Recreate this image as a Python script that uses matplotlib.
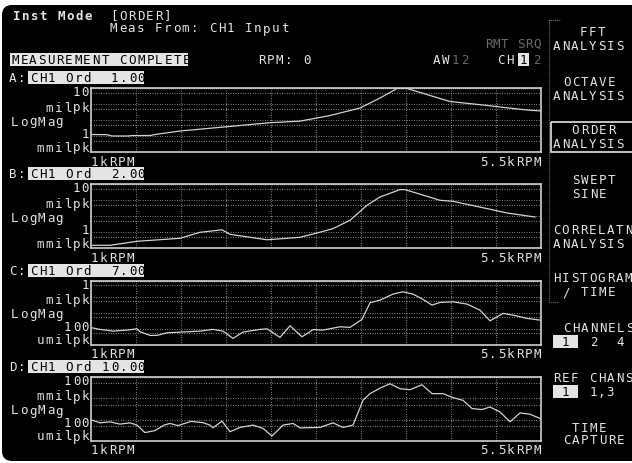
import numpy as np
import matplotlib
matplotlib.use('Agg')
import matplotlib.pyplot as plt
from matplotlib.patches import FancyBboxPatch, Rectangle

# --- trace data: RPM vs amplitude in mils (peak) ---
rpm_a = [1000, 1160, 1210, 1370, 1420, 1590, 1640, 1890, 2360, 2790, 3090, 3390,
         3690, 3890, 4060, 4160, 4590, 4920, 5090, 5360, 5500]
mag_a = [0.0124, 0.0121, 0.0100, 0.0100, 0.0107, 0.0107, 0.0124, 0.0205, 0.0381,
         0.0678, 0.085, 0.19, 0.562, 2.37, 9.31, 9.31, 1.43, 0.866, 0.649, 0.422, 0.365]

rpm_b = [1010, 1190, 1360, 1460, 1890, 2090, 2310, 2390, 2760, 3090, 3260, 3420,
         3590, 3760, 3890, 4090, 4140, 4490, 4620, 4960, 5160, 5440]
mag_b = [0.00154, 0.00154, 0.00221, 0.00274, 0.00422, 0.0100, 0.0143, 0.0075, 0.0034,
         0.00487, 0.00904, 0.0170, 0.0562, 0.487, 1.61, 4.66, 4.66, 1.0, 0.866, 0.303,
         0.161, 0.0904]

rpm_c = [1010, 1090, 1220, 1360, 1460, 1490, 1590, 1660, 1760, 1890, 2090, 2220, 2320,
         2420, 2520, 2690, 2760, 2890, 2990, 3110, 3220, 3320, 3490, 3590, 3710, 3790,
         3890, 4020, 4120, 4220, 4320, 4410, 4490, 4620, 4760, 4890, 4990, 5120, 5220,
         5360, 5490]
mag_c = [0.00112, 0.000891, 0.000698, 0.000806, 0.000972, 0.000631, 0.000376, 0.000376,
         0.000546, 0.000604, 0.000698, 0.000891, 0.000698, 0.000244, 0.000604, 0.000891,
         0.000972, 0.000282, 0.0015, 0.000307, 0.000866, 0.000806, 0.0013, 0.00119,
         0.00376, 0.041, 0.0604, 0.143, 0.2, 0.143, 0.0668, 0.0294, 0.0434, 0.0473,
         0.034, 0.0143, 0.00307, 0.00891, 0.00698, 0.00434, 0.0034]

rpm_d = [1010, 1090, 1190, 1290, 1390, 1460, 1540, 1640, 1730, 1790, 1870, 2000, 2120,
         2190, 2220, 2310, 2390, 2490, 2620, 2720, 2810, 2920, 3020, 3090, 3290, 3420,
         3520, 3620, 3720, 3790, 3890, 3990, 4090, 4190, 4310, 4410, 4520, 4620, 4720,
         4810, 4910, 4990, 5090, 5190, 5290, 5390, 5490]
mag_d = [0.000948, 0.00071, 0.000791, 0.000618, 0.00071, 0.000555, 0.000248, 0.000308,
         0.000555, 0.000665, 0.000526, 0.000834, 0.000724, 0.000555, 0.000416, 0.000851,
         0.000271, 0.000434, 0.000555, 0.00039, 0.000171, 0.000555, 0.000665, 0.000411,
         0.000434, 0.00071, 0.000434, 0.000555, 0.00807, 0.0166, 0.0301, 0.0483, 0.0282,
         0.0254, 0.0434, 0.0166, 0.0166, 0.0108, 0.00807, 0.00332, 0.00298, 0.00394,
         0.00231, 0.000791, 0.00207, 0.0018, 0.00114]

panels = ['A', 'B', 'C', 'D']
orders = ['1.00', '2.00', '7.00', '10.00']
y_top = [10, 10, 1, 0.1]          # mils
y_bot = [0.001, 0.001, 0.0001, 0.0001]
top_lbl = [('10', 'milpk'), ('10', 'milpk'), ('1', 'milpk'), ('100', 'mmilpk')]
bot_lbl = [('1', 'mmilpk'), ('1', 'mmilpk'), ('100', 'umilpk'), ('100', 'umilpk')]
traces = [(rpm_a, mag_a), (rpm_b, mag_b), (rpm_c, mag_c), (rpm_d, mag_d)]
rpm_lo, rpm_hi = 1000, 5500

W, H = 632, 463
FG = '#e4e4e4'
DIM = '#6a6a6a'
TRACE = '#d2d2d2'
GRID = '#b8b8b8'
FONT = 'DejaVu Sans Mono'
FS = 9
PITCH = 9.0

fig = plt.figure(figsize=(W / 100, H / 100), dpi=100, facecolor='white')
bg = fig.add_axes([0, 0, 1, 1])
bg.set_xlim(0, W)
bg.set_ylim(H, 0)
bg.axis('off')
bg.add_patch(FancyBboxPatch((2, 5), 660, 456, boxstyle='round,pad=0,rounding_size=10',
                            fc='black', ec='none'))


def put(x, y, s, color=FG, bold=False, pitch=PITCH):
    # fixed pitch text, x = left edge, y = visual centre (pixels)
    for i, ch in enumerate(s):
        if ch == ' ':
            continue
        bg.text(x + 3.5 + i * pitch, y + 4.5, ch, color=color, fontsize=FS, family=FONT,
                weight='bold' if bold else 'normal', ha='center', va='baseline')


def put_r(xr, y, s, **kw):
    put(xr - 7 - (len(s) - 1) * PITCH, y, s, **kw)


def put_inv(x, y, s, x0=None, x1=None):
    if x0 is None:
        x0, x1 = x - 2, x + len(s) * PITCH
    bg.add_patch(Rectangle((x0, y - 6.5), x1 - x0, 13, fc=FG, ec='none'))
    put(x, y, s, color='black')


# header
put(13, 15, 'Inst Mode', bold=True)
put(110, 15, '[ORDER]')
put(110, 28, 'Meas From: CH1 Input')
put_inv(11.5, 59.5, 'MEASUREMENT COMPLETE', 9.5, 188)
put(258, 59.5, 'RPM: 0')
put(485, 43, 'RMT SRQ', color=DIM, pitch=8)
put(433, 59.5, 'AW')
put(452, 59.5, '1', color=DIM)
put(461, 59.5, '2', color=DIM)
put(497, 59.5, 'CH')
put_inv(519.5, 59.5, '1', 517.5, 528.5)
put(533, 59.5, '2', color=DIM)

# softkey menu
bg.plot([549, 549], [20, 302], ls=(0, (0.6, 1.2)), color=GRID, lw=0.8)
bg.plot([549, 560], [20, 20], ls=(0, (0.6, 1.2)), color=GRID, lw=0.8)
bg.plot([549, 558], [302, 302], ls=(0, (0.6, 1.2)), color=GRID, lw=0.8)
put(580, 31, 'FFT')
put(553, 45, 'ANALYSIS')
put(563, 82, 'OCTAVE')
put(553, 95, 'ANALYSIS')
bg.add_patch(Rectangle((551, 122), 90, 30, fc='none', ec=FG, lw=1.2))
put(572, 130, 'ORDER')
put(553, 143, 'ANALYSIS')
put(572, 180, 'SWEPT')
put(572, 193, 'SINE')
put(553, 230, 'CORRELATN')
put(553, 243, 'ANALYSIS')
put(553, 278, 'HISTOGRAM')
put(563, 292, '/ TIME')
put(563, 327, 'CHANNELS')
put_inv(562, 341, '1', 553, 578)
put(590, 341, '2')
put(617, 341, '4')
put(553, 377, 'REF CHANS')
put_inv(562, 391, '1', 553, 578)
put(590, 391, '1,3', pitch=8)
put(572, 427, 'TIME')
put(563, 440, 'CAPTURE')

# traces
tops = [88, 184.3, 280.6, 377]
ph = 64
left, pw = 91, 450
vgrid = np.arange(rpm_lo + 450, rpm_hi, 450)

for k in range(4):
    T = tops[k]
    ax = fig.add_axes([left / W, 1 - (T + ph) / H, pw / W, ph / H])
    ax.set_facecolor('none')
    ax.set_yscale('log')
    ax.set_xlim(rpm_lo, rpm_hi)
    ax.set_ylim(y_bot[k], y_top[k])
    ax.set_xticks([])
    ax.set_yticks([])
    ax.minorticks_off()
    for s in ax.spines.values():
        s.set_color('#cfcfcf')
        s.set_linewidth(1.2)
    for v in vgrid:
        ax.axvline(v, color=GRID, lw=0.8, ls=(0, (0.6, 1.6)))
    dec = y_bot[k]
    while dec < y_top[k] * 1.01:
        for g in (dec, dec * 5):
            if y_bot[k] * 1.01 < g < y_top[k] * 0.99:
                ax.axhline(g, color=GRID, lw=0.8, ls=(0, (0.6, 1.6)))
        dec *= 10
    ax.axhline(y_top[k], color=FG, lw=1.0, ls=(0, (0.6, 0.8)))
    r, m = traces[k]
    ax.plot(r, m, color=TRACE, lw=0.9)

    put(9, T - 10.5, panels[k] + ':')
    put_inv(30, T - 10.5, 'CH1 Ord %5s' % orders[k], 28, 144)
    put_r(89, T + 3.5, top_lbl[k][0])
    put_r(89, T + 19, top_lbl[k][1])
    put(11, T + 33, 'LogMag')
    put_r(89, T + 45.5, bot_lbl[k][0])
    put_r(89, T + 59, bot_lbl[k][1])
    put(91, T + 73, '1kRPM')
    put_r(541, T + 73, '5.5kRPM')

fig.savefig('out.png', dpi=100, facecolor='white')
